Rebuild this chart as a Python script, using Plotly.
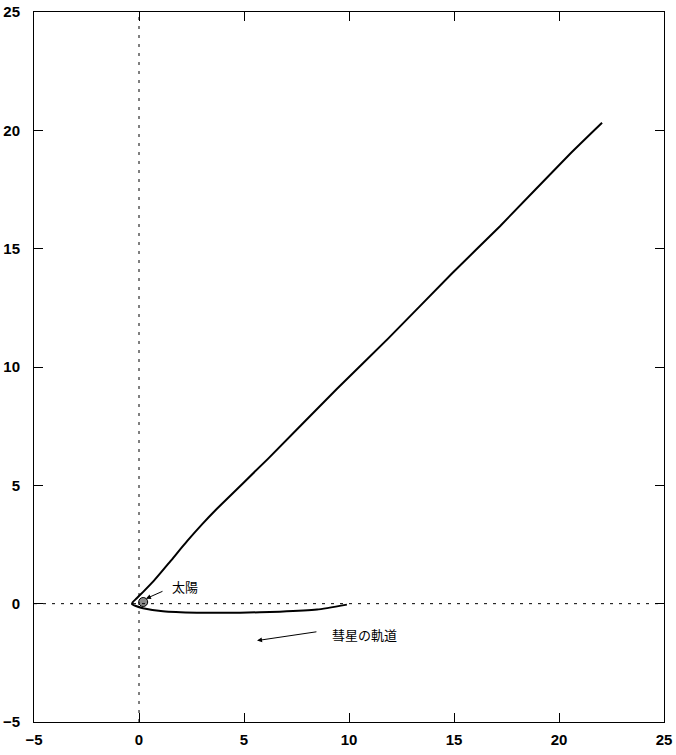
import plotly.graph_objects as go

# comet orbit (upper branch -> vertex -> lower branch)
orbit_x = [22.05, 20.52, 17.19, 14.90, 11.86, 9.43, 6.14, 3.71, 3.00, 2.30, 1.50,
           0.68, 0.20, -0.12, -0.30, -0.33, -0.15, 0.19, 1.14, 2.76, 4.81, 6.71, 8.48, 9.90]
orbit_y = [20.32, 19.00, 15.95, 13.95, 11.20, 9.08, 6.12, 4.01, 3.35, 2.65, 1.80,
           0.94, 0.50, 0.22, 0.06, -0.02, -0.10, -0.19, -0.32, -0.38, -0.38, -0.34, -0.25, -0.04]

# sun position
sun_x = [0.2]
sun_y = [0.07]

tick_vals = [-5, 0, 5, 10, 15, 20, 25]
tick_text = ["\u22125", "0", "5", "10", "15", "20", "25"]

fig = go.Figure()

# dashed x=0 and y=0 lines
fig.add_shape(type="line", x0=0, x1=0, y0=-5, y1=25,
              line=dict(color="black", width=1, dash="3px,6px"))
fig.add_shape(type="line", x0=-5, x1=25, y0=0, y1=0,
              line=dict(color="black", width=1, dash="3px,6px"))

fig.add_trace(go.Scatter(
    x=orbit_x, y=orbit_y,
    mode="lines",
    line=dict(color="black", width=2, shape="spline", smoothing=0.5),
    showlegend=False))

fig.add_trace(go.Scatter(
    x=sun_x, y=sun_y,
    mode="markers",
    marker=dict(size=9, color="#8a8a8a", line=dict(color="black", width=1)),
    showlegend=False))

label_font = dict(family="Noto Sans CJK JP", size=13, color="black")

fig.add_annotation(x=0.33, y=0.21, ax=1.19, ay=0.55, axref="x", ayref="y",
                   text="", showarrow=True, arrowhead=2, arrowsize=1,
                   arrowwidth=1, arrowcolor="black")
fig.add_annotation(x=1.48, y=0.72, text="太陽", showarrow=False,
                   xanchor="left", yanchor="middle", font=label_font)

fig.add_annotation(x=5.62, y=-1.56, ax=8.52, ay=-1.18, axref="x", ayref="y",
                   text="", showarrow=True, arrowhead=2, arrowsize=1,
                   arrowwidth=1, arrowcolor="black")
fig.add_annotation(x=9.10, y=-1.31, text="彗星の軌道", showarrow=False,
                   xanchor="left", yanchor="middle", font=label_font)

axis_style = dict(
    tickvals=tick_vals, ticktext=tick_text,
    ticks="inside", ticklen=9, tickwidth=1, tickcolor="black",
    showline=True, linecolor="black", linewidth=1, mirror="ticks",
    showgrid=False, zeroline=False, automargin=False,
    tickfont=dict(family="Liberation Sans", size=15, color="black", weight="bold"),
)

fig.update_layout(
    width=676, height=755,
    margin=dict(l=34, r=12, t=12, b=33),
    paper_bgcolor="white", plot_bgcolor="white",
    xaxis=dict(range=[-5, 25], ticklabelstandoff=4, **axis_style),
    yaxis=dict(range=[-5, 25], ticklabelstandoff=10, **axis_style),
)

# drop the browser's default body margin so the figure sits at the page corner
fig.write_html("out.html", config=dict(displayModeBar=False),
               post_script="document.body.style.margin='0';document.body.style.overflow='hidden';")
